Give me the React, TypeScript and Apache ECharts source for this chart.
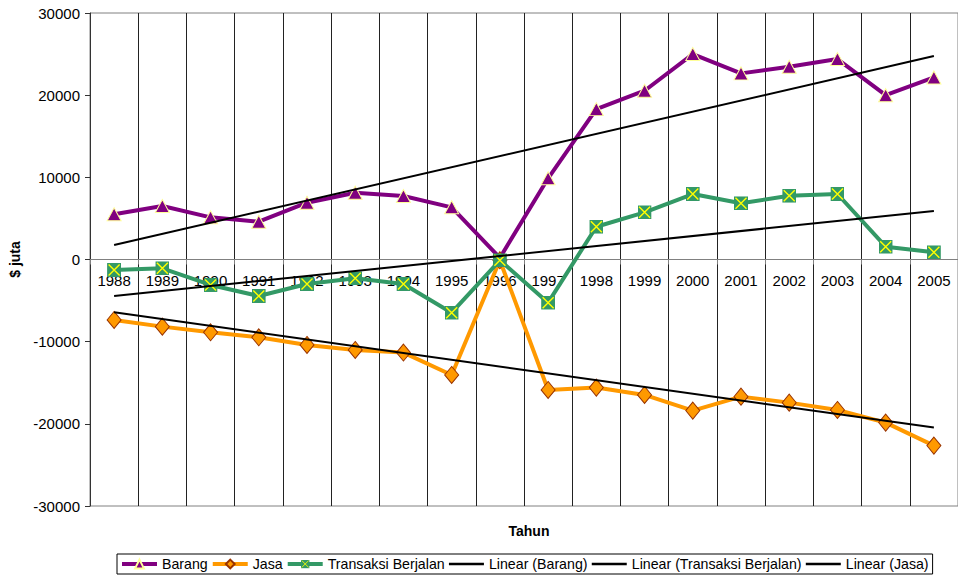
import React, { useEffect, useRef } from "react";
import * as echarts from "echarts";

const years = ["1988","1989","1990","1991","1992","1993","1994","1995","1996","1997","1998","1999","2000","2001","2002","2003","2004","2005"];
const barang = [5500, 6510, 5130, 4600, 6910, 8130, 7720, 6350, 200, 9880, 18300, 20540, 25000, 22650, 23450, 24390, 20000, 22160];
const jasa = [-7360, -8170, -8860, -9470, -10400, -11010, -11330, -14050, -100, -15880, -15590, -16480, -18390, -16690, -17420, -18310, -19850, -22650];
const transaksi = [-1280, -1070, -3100, -4440, -2980, -2290, -2980, -6470, -100, -5250, 3990, 5740, 7970, 6840, 7760, 7970, 1560, 875];
const trendBarang = [1760, null, null, null, null, null, null, null, null, null, null, null, null, null, null, null, null, 24760];
const trendTransaksi = [-4440, null, null, null, null, null, null, null, null, null, null, null, null, null, null, null, null, 5900];
const trendJasa = [-6420, null, null, null, null, null, null, null, null, null, null, null, null, null, null, null, null, -20460];
const yTicks = { min: -30000, max: 30000, interval: 10000 };

const FONT = "'Liberation Sans', Arial, sans-serif";

const squareX =
  "image://data:image/svg+xml;charset=utf-8," +
  encodeURIComponent(
    "<svg xmlns='http://www.w3.org/2000/svg' width='14' height='14' viewBox='0 0 14 14'>" +
      "<rect x='0' y='0' width='14' height='14' fill='#339966'/>" +
      "<path d='M1.5 1.5L12.5 12.5M12.5 1.5L1.5 12.5' stroke='#FFFF00' stroke-width='1.4' fill='none'/>" +
      "</svg>"
  );

const GRID_TOP = 13;
const GRID_BOTTOM = 72;
const H = 578;

export default function App() {
  const ref = useRef<HTMLDivElement>(null);
  useEffect(() => {
    document.body.style.margin = "0";
    const chart = echarts.init(ref.current!, null, { renderer: "svg" });
    const gridH = H - GRID_TOP - GRID_BOTTOM;
    const zeroOffset = -gridH * ((0 - yTicks.min) / (yTicks.max - yTicks.min));
    const trendStyle = (name: string, data: (number | null)[]) => ({
      name,
      type: "line",
      data,
      connectNulls: true,
      showSymbol: false,
      symbol: "none",
      lineStyle: { color: "#000", width: 2 },
      itemStyle: { color: "#000" },
      z: 5,
    });
    const hiddenSym = { color: "rgba(0,0,0,0)", borderWidth: 0 };
    chart.setOption({
      animation: false,
      textStyle: { fontFamily: FONT },
      grid: {
        left: 90,
        top: GRID_TOP,
        bottom: GRID_BOTTOM,
        right: -10,
        show: true,
        borderColor: "#808080",
        borderWidth: 1,
        backgroundColor: "transparent",
      },
      legend: {
        left: 117,
        top: 554,
        padding: [3, 4, 3, 3],
        itemGap: 3,
        itemWidth: 35,
        itemHeight: 11,
        borderColor: "#000",
        borderWidth: 1,
        textStyle: { fontFamily: FONT, fontSize: 14.2, color: "#000" },
        data: [
          { name: "Barang", lineStyle: { width: 4 } },
          { name: "Jasa", lineStyle: { width: 4 } },
          { name: "Transaksi Berjalan", lineStyle: { width: 4 } },
          { name: "Linear (Barang)", itemStyle: hiddenSym, lineStyle: { width: 2.5 } },
          { name: "Linear (Transaksi Berjalan)", itemStyle: hiddenSym, lineStyle: { width: 2.5 } },
          { name: "Linear (Jasa)", itemStyle: hiddenSym, lineStyle: { width: 2.5 } },
        ],
      },
      xAxis: {
        type: "category",
        data: years,
        boundaryGap: true,
        position: "bottom",
        offset: zeroOffset,
        axisLine: { onZero: false, lineStyle: { color: "#808080", width: 1 } },
        axisTick: { show: true, length: 5, lineStyle: { color: "#808080" } },
        axisLabel: { margin: 13, fontSize: 15, color: "#000", fontFamily: FONT, interval: 0 },
        splitLine: { show: true, interval: 0, lineStyle: { color: "#222", width: 1 } },
      },
      yAxis: {
        type: "value",
        min: yTicks.min,
        max: yTicks.max,
        interval: yTicks.interval,
        name: "$ juta",
        nameLocation: "middle",
        nameGap: 66,
        nameRotate: 90,
        nameTextStyle: { fontWeight: "bold", fontSize: 14, color: "#000", fontFamily: FONT },
        axisLine: { show: true, lineStyle: { color: "#333", width: 1 } },
        axisTick: { show: true, length: 5, lineStyle: { color: "#333" } },
        axisLabel: {
          fontSize: 15,
          color: "#000",
          fontFamily: FONT,
          margin: 10,
          formatter: (v: number) => String(v),
        },
        splitLine: { show: false },
      },
      graphic: [
        {
          type: "text",
          x: 529,
          y: 531,
          style: {
            text: "Tahun",
            font: "bold 14px " + FONT,
            fill: "#000",
            align: "center",
            verticalAlign: "middle",
          },
        },
      ],
      series: [
        {
          name: "Barang",
          type: "line",
          data: barang,
          symbol: "triangle",
          symbolSize: [14, 13],
          lineStyle: { color: "#800080", width: 4 },
          itemStyle: { color: "#800080", borderColor: "#FFFF99", borderWidth: 1 },
          z: 3,
        },
        {
          name: "Jasa",
          type: "line",
          data: jasa,
          symbol: "diamond",
          symbolSize: [14, 17],
          lineStyle: { color: "#FF9900", width: 4 },
          itemStyle: { color: "#FF9900", borderColor: "#993300", borderWidth: 1 },
          z: 3,
        },
        {
          name: "Transaksi Berjalan",
          type: "line",
          data: transaksi,
          symbol: squareX,
          symbolSize: 14,
          lineStyle: { color: "#339966", width: 4 },
          itemStyle: { color: "#339966" },
          z: 4,
        },
        trendStyle("Linear (Barang)", trendBarang),
        trendStyle("Linear (Transaksi Berjalan)", trendTransaksi),
        trendStyle("Linear (Jasa)", trendJasa),
      ],
    });
    return () => chart.dispose();
  }, []);
  return <div ref={ref} style={{ width: 958, height: 578 }} />;
}
